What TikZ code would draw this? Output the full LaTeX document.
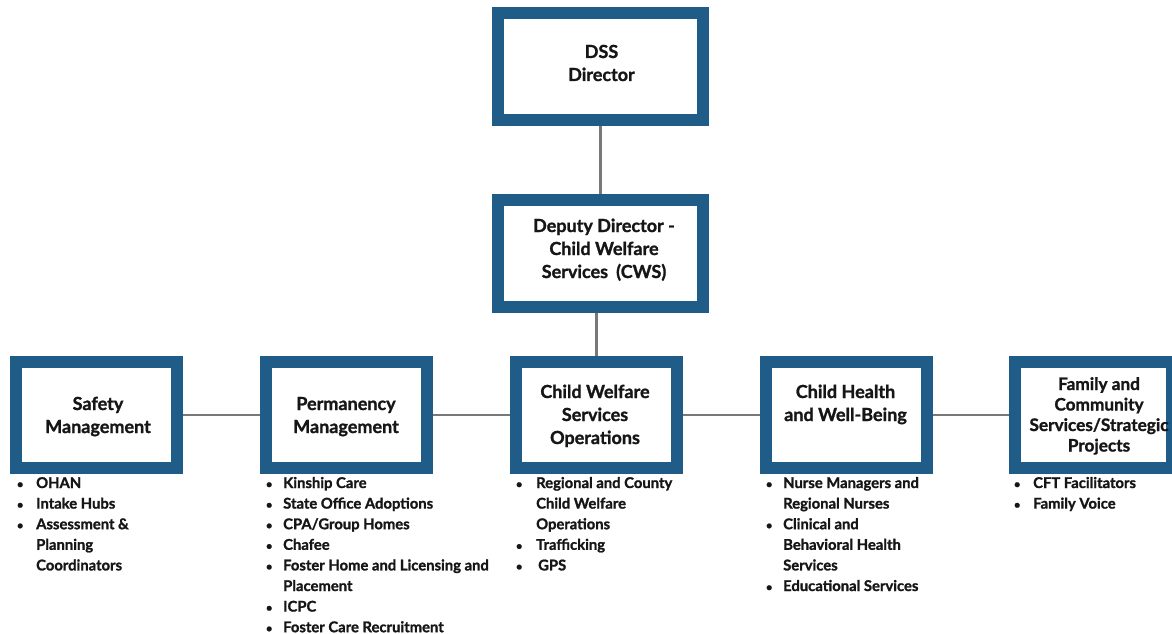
\documentclass[tikz,border=0pt]{standalone}
\usepackage{fontspec}
\setmainfont{Lato}[BoldFeatures={FakeBold=1.3}]
\usetikzlibrary{backgrounds}
\definecolor{boxblue}{RGB}{31,92,135}
\definecolor{conn}{RGB}{120,120,120}
\definecolor{ink}{RGB}{22,22,22}
\newcommand\bul[1]{\makebox[#1][l]{\makebox[0pt]{\fontsize{11}{11}\selectfont\textbullet}}}
\newcommand\ind[1]{\hspace*{#1}}
\begin{document}
\begin{tikzpicture}[x=1pt,y=-1pt,
  orgbox/.style={draw=boxblue,line width=12pt,fill=white,minimum width=161pt,minimum height=106pt,inner sep=0pt},
  topbox/.style={orgbox,minimum width=205pt,minimum height=107pt},
  boxtitle/.style={inner sep=0pt,text=ink,font=\fontsize{18}{23}\selectfont\bfseries},
  smalltitle/.style={inner sep=0pt,text=ink,font=\fontsize{17.2}{20.5}\selectfont\bfseries},
  lst/.style={inner sep=0pt,text=ink,anchor=base west,font=\fontsize{14.8}{20.6}\selectfont\bfseries},
  link/.style={draw=conn,line width=2.5pt}
]
\useasboundingbox (0,0) rectangle (1172,634);

% boxes
\node[topbox] (dss) at (600.5,66.5) {};
\node[topbox] (dep) at (600.5,253.5) {};
\node[orgbox] (safe) at (96.5,415) {};
\node[orgbox] (perm) at (346.5,415) {};
\node[orgbox] (ops) at (596.5,415) {};
\node[orgbox] (hlth) at (846.5,415) {};
\node[orgbox,minimum width=157pt] (fam) at (1093.5,415) {};

% connectors
\begin{scope}[on background layer]
\fill[white] (0,0) rectangle (1172,634);
\draw[link] (dss) -- (dep);
\draw[link] (ops.north |- dep.south) -- (ops.north);
\draw[link] (safe) -- (perm);
\draw[link] (perm) -- (ops);
\draw[link] (ops) -- (hlth);
\draw[link] (hlth) -- (fam);
\end{scope}

% titles
\node[boxtitle,anchor=base] (tdss) at (601.5,58) {\begin{tabular}[t]{@{}c@{}}DSS\\Director\end{tabular}};
\node[boxtitle,anchor=base] (tdep) at (604,232) {\begin{tabular}[t]{@{}c@{}}Deputy Director -\\Child Welfare\\Services\hspace{0.45em}(CWS)\end{tabular}};
\node[boxtitle,anchor=base] (tsafe) at (98,410) {\begin{tabular}[t]{@{}c@{}}Safety\\Management\end{tabular}};
\node[boxtitle,anchor=base] (tperm) at (346,410) {\begin{tabular}[t]{@{}c@{}}Permanency\\Management\end{tabular}};
\node[boxtitle,anchor=base] (tops) at (595,398) {\begin{tabular}[t]{@{}c@{}}Child Welfare\\Services\\Operations\end{tabular}};
\node[boxtitle,anchor=base] (thlth) at (845.5,398) {\begin{tabular}[t]{@{}c@{}}Child Health\\and Well-Being\end{tabular}};
\node[smalltitle,anchor=base] (tfam) at (1099,390) {\begin{tabular}[t]{@{}c@{}}Family and\\Community\\Services/Strategic\\Projects\end{tabular}};

% lists
\node[lst] (lsafe) at (20,488) {\begin{tabular}[t]{@{}l@{}}\bul{16pt}OHAN\\ \bul{16pt}Intake Hubs\\ \bul{16pt}Assessment \&\\ \ind{16pt}Planning\\ \ind{16pt}Coordinators\end{tabular}};
\node[lst] (lperm) at (269,488) {\begin{tabular}[t]{@{}l@{}}\bul{14pt}Kinship Care\\ \bul{14pt}State Office Adoptions\\ \bul{14pt}CPA/Group Homes\\ \bul{14pt}Chafee\\ \bul{14pt}Foster Home and Licensing and\\ \ind{14pt}Placement\\ \bul{14pt}ICPC\\ \bul{14pt}Foster Care Recruitment\end{tabular}};
\node[lst] (lops) at (519,488) {\begin{tabular}[t]{@{}l@{}}\bul{17pt}Regional and County\\ \ind{17pt}Child Welfare\\ \ind{17pt}Operations\\ \bul{17pt}Trafficking\\ \bul{17pt}\hspace{2pt}GPS\end{tabular}};
\node[lst] (lhlth) at (769,488) {\begin{tabular}[t]{@{}l@{}}\bul{14pt}Nurse Managers and\\ \ind{14pt}Regional Nurses\\ \bul{14pt}Clinical and\\ \ind{14pt}Behavioral Health\\ \ind{14pt}Services\\ \bul{14pt}Educational Services\end{tabular}};
\node[lst] (lfam) at (1017,488) {\begin{tabular}[t]{@{}l@{}}\bul{16pt}CFT Facilitators\\ \bul{16pt}Family Voice\end{tabular}};
\end{tikzpicture}
\end{document}
